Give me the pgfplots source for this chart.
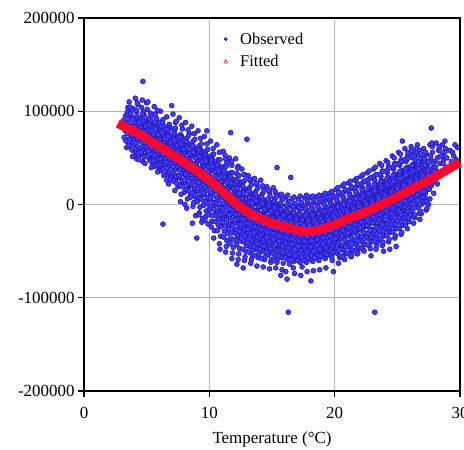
\documentclass[border=0pt]{standalone}
\usepackage{fontspec}
\setmainfont{Liberation Serif}
\usepackage{pgfplots}
\pgfplotsset{compat=1.18}

\definecolor{obsline}{RGB}{35,25,185}
\definecolor{obsfill}{RGB}{70,60,250}
\definecolor{fitred}{RGB}{245,10,50}
\definecolor{gridgray}{RGB}{180,180,180}

\pgfplotsset{obsstyle/.style={only marks, mark=*, mark size=2.4bp,
    mark options={draw=obsline, fill=obsfill, line width=0.7bp}}}

\begin{document}
\begin{tikzpicture}
\begin{axis}[
    set layers,
    at={(84bp,59bp)}, anchor=south west,
    scale only axis,
    width=376bp, height=373bp,
    xmin=0, xmax=30, ymin=-200000, ymax=200000,
    xtick={0,10,20,30},
    ytick={-200000,-100000,0,100000,200000},
    yticklabels={-200000,-100000,0,100000,200000},
    scaled y ticks=false,
    /pgf/number format/assume math mode=true,
    grid=major,
    major grid style={gridgray, line width=0.8bp},
    axis line style={black, line width=1.4bp},
    tick align=outside,
    xtick pos=left, ytick pos=left,
    major tick length=6bp,
    tick style={black, line width=1.2bp},
    tick label style={font=\fontsize{17}{18}\selectfont},
    xticklabel style={yshift=-7bp},
    xlabel={Temperature (°C)},
    xlabel style={font=\fontsize{17}{18}\selectfont, yshift=-6bp},
    legend style={draw=none, fill=none, at={(0.355,0.972)}, anchor=north west,
        font=\fontsize{16.5}{17}\selectfont, row sep=6bp},
    legend cell align=left,
]
% observed values (scatter)
\addplot[obsstyle,
    legend image code/.code={\path[draw=none, fill=none] (0,0) -- (0.62cm,0);
        \draw[obsline, fill=obsfill, line width=0.6bp] (0.18cm,0) circle (1.6bp);}]
coordinates {
(3.2,72000) (3.3,95000) (3.4,88000) (3.4,61000) (3.5,104000) (3.3,79000)
(3.6,110000) (3.7,97000) (3.6,70000) (3.8,85000) (3.9,58000) (3.7,76000) (3.9,103000) (3.8,66000) (3.6,91000) (4.0,52000)
(4.1,114000) (4.2,99000) (4.1,83000) (4.3,71000) (4.4,60000) (4.2,91000) (4.0,75000) (4.3,107000) (4.4,80000) (4.1,64000) (4.5,55000) (4.2,49000)
(4.7,132000) (4.6,104000) (4.8,96000) (4.6,86000) (4.9,78000) (4.7,68000) (4.8,61000) (4.6,54000) (5.0,90000) (4.9,70000) (4.7,46000) (4.8,83000) (5.0,109000)
(5.1,110000) (5.3,98000) (5.2,90000) (5.4,82000) (5.1,74000) (5.3,66000) (5.2,58000) (5.4,50000) (5.5,43000) (5.1,62000) (5.3,86000) (5.5,71000) (5.2,78000) (5.4,95000)
(5.6,105000) (5.8,92000) (5.7,84000) (5.9,76000) (5.6,69000) (5.8,61000) (5.7,53000) (5.9,45000) (6.0,37000) (5.6,57000) (5.8,71000) (6.0,82000) (5.7,97000) (5.9,63000) (6.0,54000)
(6.1,100000) (6.3,91000) (6.2,82000) (6.4,76000) (6.1,68000) (6.3,62000) (6.2,54000) (6.4,46000) (6.1,40000) (6.3,-21000) (6.5,32000) (6.2,72000) (6.4,58000) (6.0,88000) (6.5,66000) (6.2,49000) (6.4,84000)
(6.6,94000) (6.8,86000) (6.7,78000) (6.9,71000) (6.6,64000) (6.8,56000) (6.7,48000) (6.9,41000) (7.0,34000) (6.6,26000) (6.8,66000) (7.0,53000) (6.7,59000) (6.9,82000) (6.6,43000) (7.0,106000)
(7.1,97000) (7.3,88000) (7.2,79000) (7.4,73000) (7.1,65000) (7.3,58000) (7.2,50000) (7.4,43000) (7.1,35000) (7.3,27000) (7.5,19000) (7.2,61000) (7.4,53000) (7.5,69000) (7.1,45000) (7.3,82000) (7.5,39000)
(7.6,93000) (7.8,85000) (7.7,75000) (7.9,67000) (7.6,59000) (7.8,52000) (7.7,44000) (7.9,37000) (7.6,29000) (7.8,21000) (8.0,13000) (7.7,55000) (7.9,48000) (8.0,63000) (7.6,40000) (7.8,73000) (8.0,32000) (7.7,3000)
(8.1,88000) (8.3,80000) (8.2,71000) (8.4,64000) (8.1,56000) (8.3,49000) (8.2,41000) (8.4,34000) (8.1,26000) (8.3,18000) (8.5,10000) (8.2,46000) (8.4,39000) (8.5,54000) (8.1,32000) (8.3,62000) (8.5,22000) (8.2,-4000) (8.4,76000)
(8.6,84000) (8.8,76000) (8.7,68000) (8.9,60000) (8.6,52000) (8.8,44000) (8.7,37000) (8.9,30000) (8.6,22000) (8.8,14000) (9.0,6000) (8.7,41000) (8.9,34000) (9.0,49000) (8.6,27000) (8.8,56000) (9.0,18000) (8.7,-2000) (9.0,-36000) (8.9,-12000)
(9.1,79000) (9.3,71000) (9.2,63000) (9.4,55000) (9.1,47000) (9.3,39000) (9.2,31000) (9.4,24000) (9.1,16000) (9.3,8000) (9.5,-1000) (9.2,36000) (9.4,29000) (9.5,43000) (9.1,21000) (9.3,51000) (9.5,12000) (9.2,-9000) (9.4,-19000) (9.3,59000)
(9.6,73000) (9.8,65000) (9.7,57000) (9.9,49000) (9.6,41000) (9.8,33000) (9.7,26000) (9.9,19000) (9.6,11000) (9.8,3000) (10.0,-5000) (9.7,31000) (9.9,24000) (10.0,38000) (9.6,16000) (9.8,45000) (10.0,7000) (9.7,-13000) (9.9,-21000) (9.6,53000) (9.8,79000)
(10.1,68000) (10.3,60000) (10.2,52000) (10.4,44000) (10.1,36000) (10.3,28000) (10.2,21000) (10.4,14000) (10.1,6000) (10.3,-2000) (10.5,-10000) (10.2,26000) (10.4,19000) (10.5,33000) (10.1,11000) (10.3,40000) (10.5,2000) (10.2,-18000) (10.4,-28000) (10.1,48000) (10.3,54000) (10.5,24000)
(10.6,64000) (10.8,56000) (10.7,48000) (10.9,40000) (10.6,32000) (10.8,24000) (10.7,17000) (10.9,10000) (10.6,2000) (10.8,-6000) (11.0,-14000) (10.7,22000) (10.9,15000) (11.0,29000) (10.6,7000) (10.8,36000) (11.0,-2000) (10.7,-22000) (10.9,-34000) (10.6,44000) (10.8,-42000) (11.0,20000)
(11.1,57000) (11.3,49000) (11.2,41000) (11.4,33000) (11.1,25000) (11.3,17000) (11.2,10000) (11.4,3000) (11.1,-5000) (11.3,-13000) (11.5,-21000) (11.2,15000) (11.4,8000) (11.5,22000) (11.1,0) (11.3,29000) (11.5,-9000) (11.2,-29000) (11.4,-39000) (11.1,37000) (11.3,-51000) (11.5,13000) (11.4,45000)
(11.7,77000) (11.6,50000) (11.8,42000) (11.7,34000) (11.9,26000) (11.6,18000) (11.8,10000) (11.7,3000) (11.9,-4000) (11.6,-12000) (11.8,-20000) (12.0,-28000) (11.7,8000) (11.9,1000) (12.0,15000) (11.6,-7000) (11.8,22000) (12.0,-16000) (11.7,-36000) (11.9,-46000) (11.6,30000) (11.8,-58000) (12.0,6000)
(12.1,49000) (12.3,41000) (12.2,33000) (12.4,25000) (12.1,17000) (12.3,9000) (12.2,2000) (12.4,-5000) (12.1,-12000) (12.3,-19000) (12.5,-27000) (12.2,5000) (12.4,-2000) (12.5,12000) (12.1,-10000) (12.3,19000) (12.5,-17000) (12.2,-37000) (12.4,-47000) (12.1,27000) (12.3,-59000) (12.5,1000) (12.2,-64000) (12.4,-31000)
(12.6,38000) (12.8,32000) (12.7,24000) (12.9,16000) (12.6,10000) (12.8,3000) (12.7,-4000) (12.9,-11000) (12.6,-18000) (12.8,-25000) (13.0,-32000) (12.7,0) (12.9,-7000) (13.0,6000) (12.6,-14000) (12.8,14000) (13.0,-22000) (12.7,-40000) (12.9,-50000) (12.6,20000) (12.8,-60000) (13.0,-4000) (12.7,-68000) (12.9,-36000) (13.0,70000)
(13.1,31000) (13.3,25000) (13.2,18000) (13.4,11000) (13.1,5000) (13.3,-2000) (13.2,-9000) (13.4,-16000) (13.1,-23000) (13.3,-30000) (13.5,-37000) (13.2,-5000) (13.4,-12000) (13.5,1000) (13.1,-19000) (13.3,8000) (13.5,-27000) (13.2,-45000) (13.4,-54000) (13.1,15000) (13.3,-63000) (13.5,-9000) (13.4,-41000)
(13.6,28000) (13.8,21000) (13.7,14000) (13.9,7000) (13.6,1000) (13.8,-6000) (13.7,-13000) (13.9,-20000) (13.6,-27000) (13.8,-34000) (14.0,-41000) (13.7,-9000) (13.9,-16000) (14.0,-3000) (13.6,-23000) (13.8,4000) (14.0,-31000) (13.7,-48000) (13.9,-57000) (13.6,11000) (13.8,-66000) (14.0,-13000) (13.9,-44000)
(14.1,26000) (14.3,18000) (14.2,11000) (14.4,4000) (14.1,-2000) (14.3,-9000) (14.2,-16000) (14.4,-23000) (14.1,-30000) (14.3,-37000) (14.5,-44000) (14.2,-12000) (14.4,-19000) (14.5,-6000) (14.1,-26000) (14.3,1000) (14.5,-34000) (14.2,-50000) (14.4,-59000) (14.1,8000) (14.3,-67000) (14.5,-16000) (14.4,-48000)
(14.6,19000) (14.8,13000) (14.7,6000) (14.9,0) (14.6,-6000) (14.8,-13000) (14.7,-20000) (14.9,-27000) (14.6,-34000) (14.8,-41000) (15.0,-48000) (14.7,-16000) (14.9,-23000) (15.0,-9000) (14.6,-30000) (14.8,-3000) (15.0,-38000) (14.7,-54000) (14.9,-62000) (14.6,4000) (14.8,-69000) (15.0,-19000) (14.9,-51000)
(15.1,18000) (15.4,39500) (15.3,12000) (15.2,6000) (15.4,0) (15.1,-6000) (15.3,-13000) (15.2,-20000) (15.4,-27000) (15.1,-34000) (15.3,-41000) (15.5,-48000) (15.2,-16000) (15.4,-23000) (15.5,-10000) (15.1,-30000) (15.3,-3000) (15.5,-38000) (15.2,-54000) (15.4,-62000) (15.1,3000) (15.3,-68000) (15.5,-20000) (15.4,-50000)
(15.6,10000) (15.8,5000) (15.7,-1000) (15.9,-7000) (15.6,-13000) (15.8,-19000) (15.7,-25000) (15.9,-31000) (15.6,-37000) (15.8,-43000) (16.0,-50000) (15.7,-21000) (15.9,-27000) (16.0,-14000) (15.6,-33000) (15.8,-9000) (16.0,-40000) (15.7,-56000) (15.9,-63000) (15.6,-3000) (15.8,-70000) (16.0,-24000) (15.7,-76000) (15.9,-53000)
(16.1,8000) (16.3,3000) (16.2,-3000) (16.4,-9000) (16.1,-15000) (16.3,-21000) (16.2,-27000) (16.4,-33000) (16.1,-39000) (16.3,-45000) (16.5,-52000) (16.2,-23000) (16.4,-29000) (16.5,-16000) (16.1,-35000) (16.3,-11000) (16.5,-42000) (16.2,-58000) (16.4,-64000) (16.5,29000) (16.2,-80000) (16.3,-115500) (16.5,-26000) (16.1,-72000) (16.4,-55000)
(16.6,6000) (16.8,1000) (16.7,-5000) (16.9,-11000) (16.6,-17000) (16.8,-23000) (16.7,-29000) (16.9,-35000) (16.6,-41000) (16.8,-47000) (17.0,-54000) (16.7,-25000) (16.9,-31000) (17.0,-18000) (16.6,-37000) (16.8,-13000) (17.0,-44000) (16.7,-60000) (16.6,-2000) (16.8,-74000) (17.0,-28000) (16.7,-68000) (16.9,-57000)
(17.1,6000) (17.3,0) (17.2,-6000) (17.4,-12000) (17.1,-18000) (17.3,-24000) (17.2,-30000) (17.4,-36000) (17.1,-42000) (17.3,-48000) (17.5,-55000) (17.2,-26000) (17.4,-32000) (17.5,-19000) (17.1,-38000) (17.3,-14000) (17.5,-45000) (17.2,-61000) (17.4,-67000) (17.1,-3000) (17.3,-76000) (17.5,-29000) (17.4,-58000)
(17.6,7000) (17.8,1000) (17.7,-5000) (17.9,-11000) (17.6,-17000) (17.8,-23000) (17.7,-29000) (17.9,-35000) (17.6,-41000) (17.8,-47000) (18.0,-54000) (17.7,-25000) (17.9,-31000) (18.0,-18000) (17.6,-37000) (17.8,-13000) (18.0,-44000) (17.7,-60000) (17.6,-2000) (17.8,-72000) (18.1,-82000) (18.0,-29000) (17.7,-57000)
(18.1,8000) (18.3,2000) (18.2,-4000) (18.4,-10000) (18.1,-16000) (18.3,-22000) (18.2,-28000) (18.4,-34000) (18.1,-40000) (18.3,-46000) (18.5,-53000) (18.2,-24000) (18.4,-30000) (18.5,-17000) (18.1,-36000) (18.3,-12000) (18.5,-43000) (18.2,-59000) (18.1,-1000) (18.3,-71000) (18.5,-28000) (18.2,-55000)
(18.6,8500) (18.8,3000) (18.7,-3000) (18.9,-9000) (18.6,-15000) (18.8,-21000) (18.7,-27000) (18.9,-33000) (18.6,-39000) (18.8,-45000) (19.0,-52000) (18.7,-23000) (18.9,-29000) (19.0,-16000) (18.6,-35000) (18.8,-11000) (19.0,-42000) (18.7,-58000) (18.6,0) (18.8,-70000) (19.0,-27000) (18.7,-50000)
(19.1,10000) (19.3,5000) (19.2,-1000) (19.4,-7000) (19.1,-13000) (19.3,-19000) (19.2,-25000) (19.4,-31000) (19.1,-37000) (19.3,-43000) (19.5,-50000) (19.2,-21000) (19.4,-27000) (19.5,-14000) (19.1,-33000) (19.3,-9000) (19.5,-40000) (19.2,-56000) (19.1,2000) (19.3,-68000) (19.5,-25000) (19.2,-47000)
(19.6,12000) (19.8,7000) (19.7,1000) (19.9,-5000) (19.6,-11000) (19.8,-17000) (19.7,-23000) (19.9,-29000) (19.6,-35000) (19.8,-41000) (20.0,-48000) (19.7,-19000) (19.9,-25000) (20.0,-12000) (19.6,-31000) (19.8,-7000) (20.0,-38000) (19.7,-54000) (19.9,-72000) (19.6,4000) (19.8,-60000) (20.0,-23000) (19.7,-44000)
(20.1,16000) (20.3,10000) (20.2,4000) (20.4,-2000) (20.1,-8000) (20.3,-14000) (20.2,-20000) (20.4,-26000) (20.1,-32000) (20.3,-38000) (20.5,-45000) (20.2,-16000) (20.4,-22000) (20.5,-9000) (20.1,-28000) (20.3,-4000) (20.5,-35000) (20.2,-51000) (20.4,-57000) (20.1,8000) (20.3,-63000) (20.5,-20000) (20.2,-41000)
(20.6,20000) (20.8,14000) (20.7,8000) (20.9,2000) (20.6,-4000) (20.8,-10000) (20.7,-16000) (20.9,-22000) (20.6,-28000) (20.8,-34000) (21.0,-41000) (20.7,-12000) (20.9,-18000) (21.0,-5000) (20.6,-24000) (20.8,0) (21.0,-31000) (20.7,-47000) (20.9,-53000) (20.6,12000) (20.8,-59000) (21.0,-17000) (20.7,-37000)
(21.1,23000) (21.3,17000) (21.2,11000) (21.4,5000) (21.1,-1000) (21.3,-7000) (21.2,-13000) (21.4,-19000) (21.1,-25000) (21.3,-31000) (21.5,-38000) (21.2,-9000) (21.4,-15000) (21.5,-2000) (21.1,-21000) (21.3,3000) (21.5,-28000) (21.2,-44000) (21.4,-50000) (21.1,15000) (21.3,-56000) (21.5,-14000) (21.2,-34000)
(21.6,26000) (21.8,20000) (21.7,14000) (21.9,8000) (21.6,2000) (21.8,-4000) (21.7,-10000) (21.9,-16000) (21.6,-22000) (21.8,-28000) (22.0,-35000) (21.7,-6000) (21.9,-12000) (22.0,1000) (21.6,-18000) (21.8,6000) (22.0,-25000) (21.7,-41000) (21.9,-47000) (21.6,18000) (21.8,-53000) (22.0,-11000) (21.7,-31000)
(22.1,30000) (22.3,24000) (22.2,18000) (22.4,12000) (22.1,6000) (22.3,0) (22.2,-6000) (22.4,-12000) (22.1,-18000) (22.3,-24000) (22.5,-31000) (22.2,-2000) (22.4,-8000) (22.5,5000) (22.1,-14000) (22.3,10000) (22.5,-21000) (22.2,-37000) (22.4,-43000) (22.1,22000) (22.3,-49000) (22.5,-9000) (22.2,-28000)
(22.6,34000) (22.8,28000) (22.7,22000) (22.9,16000) (22.6,10000) (22.8,4000) (22.7,-2000) (22.9,-8000) (22.6,-14000) (22.8,-20000) (23.0,-27000) (22.7,2000) (22.9,-4000) (23.0,9000) (22.6,-10000) (22.8,14000) (23.0,-17000) (22.7,-33000) (22.9,-55000) (22.6,26000) (22.8,-45000) (23.0,-5000) (22.7,-24000) (22.9,-38000)
(23.1,38000) (23.3,32000) (23.2,26000) (23.4,20000) (23.1,14000) (23.3,8000) (23.2,2000) (23.4,-4000) (23.1,-10000) (23.3,-16000) (23.5,-23000) (23.2,6000) (23.4,0) (23.5,13000) (23.1,-6000) (23.3,18000) (23.5,-13000) (23.2,-29000) (23.4,-40000) (23.1,30000) (23.3,-48000) (23.2,-115500) (23.5,-2000) (23.4,-20000)
(23.6,44000) (23.8,36000) (23.7,30000) (23.9,24000) (23.6,18000) (23.8,12000) (23.7,6000) (23.9,0) (23.6,-6000) (23.8,-12000) (24.0,-19000) (23.7,10000) (23.9,4000) (24.0,17000) (23.6,-2000) (23.8,22000) (24.0,-9000) (23.7,-25000) (23.9,-34000) (23.6,32000) (23.8,-44000) (24.0,1000) (23.7,-16000) (23.9,-50000)
(24.1,47000) (24.3,40000) (24.2,34000) (24.4,28000) (24.1,22000) (24.3,16000) (24.2,10000) (24.4,4000) (24.1,-2000) (24.3,-8000) (24.5,-15000) (24.2,14000) (24.4,8000) (24.5,21000) (24.1,2000) (24.3,26000) (24.5,-5000) (24.2,-21000) (24.4,-30000) (24.1,36000) (24.3,-40000) (24.5,5000) (24.2,-12000) (24.4,-48000)
(24.6,52000) (24.8,44000) (24.7,38000) (24.9,32000) (24.6,26000) (24.8,20000) (24.7,14000) (24.9,8000) (24.6,2000) (24.8,-4000) (25.0,-11000) (24.7,18000) (24.9,12000) (25.0,25000) (24.6,6000) (24.8,30000) (25.0,-1000) (24.7,-17000) (24.9,-26000) (24.6,40000) (24.8,-36000) (25.0,9000) (24.7,-8000) (24.9,-45000)
(25.4,68000) (25.1,56000) (25.3,48000) (25.2,42000) (25.4,36000) (25.1,30000) (25.3,24000) (25.2,18000) (25.4,12000) (25.1,6000) (25.3,0) (25.5,-7000) (25.2,22000) (25.4,16000) (25.5,29000) (25.1,10000) (25.3,34000) (25.5,3000) (25.2,-13000) (25.4,-22000) (25.1,44000) (25.3,-32000) (25.5,13000) (25.2,-4000)
(25.6,60000) (25.8,52000) (25.7,46000) (25.9,40000) (25.6,34000) (25.8,28000) (25.7,22000) (25.9,16000) (25.6,10000) (25.8,4000) (26.0,-3000) (25.7,26000) (25.9,20000) (26.0,33000) (25.6,14000) (25.8,38000) (26.0,7000) (25.7,-9000) (25.9,-18000) (25.6,48000) (25.8,-26000) (26.0,17000) (25.7,1000)
(26.1,62000) (26.3,56000) (26.2,50000) (26.4,44000) (26.1,38000) (26.3,32000) (26.2,26000) (26.4,20000) (26.1,14000) (26.3,8000) (26.5,1000) (26.2,30000) (26.4,24000) (26.5,37000) (26.1,18000) (26.3,42000) (26.5,11000) (26.2,-5000) (26.4,-14000) (26.1,52000) (26.3,-20000) (26.5,21000) (26.2,5000)
(26.6,64000) (26.8,58000) (26.7,52000) (26.9,46000) (26.6,40000) (26.8,34000) (26.7,28000) (26.9,22000) (26.6,16000) (26.8,10000) (27.0,4000) (26.7,32000) (26.9,26000) (27.0,40000) (26.6,20000) (26.8,44000) (27.0,14000) (26.7,-2000) (26.9,-10000) (26.6,56000) (26.8,-16000) (27.0,24000)
(27.1,60000) (27.3,54000) (27.2,48000) (27.4,42000) (27.1,36000) (27.3,30000) (27.2,24000) (27.4,18000) (27.1,12000) (27.3,6000) (27.5,0) (27.2,34000) (27.4,28000) (27.1,50000) (27.3,-6000) (27.5,38000)
(27.7,82000) (27.6,64000) (27.8,56000) (27.7,48000) (27.9,40000) (27.6,34000) (27.8,28000) (27.7,20000) (27.9,12000) (27.6,6000) (28.0,46000) (27.8,62000)
(28.1,66000) (28.3,58000) (28.2,50000) (28.4,44000) (28.1,36000) (28.3,30000) (28.2,22000) (28.4,58000)
(28.6,64000) (28.8,56000) (28.7,48000) (28.9,40000) (28.6,52000) (28.8,68000)
(29.2,58000) (29.5,52000) (29.8,61000) (29.3,46000) (29.6,64000)
(3.25,84000) (3.35,68000) (3.45,99000) (3.15,90000) (3.45,76000)
(3.55,86000) (3.65,79000) (3.75,72000) (3.85,94000) (3.95,81000) (3.65,63000) (3.75,101000) (3.85,77000) (3.95,68000) (3.55,96000)
(4.05,88000) (4.15,72000) (4.25,80000) (4.35,93000) (4.45,68000) (4.15,101000) (4.25,62000) (4.35,85000) (4.45,74000) (4.05,57000) (4.35,52000) (4.25,109000)
(4.55,92000) (4.65,76000) (4.75,88000) (4.85,66000) (4.95,84000) (4.55,71000) (4.65,58000) (4.75,100000) (4.85,74000) (4.95,62000) (4.65,112000) (4.85,52000) (4.55,82000)
(5.05,82000) (5.15,68000) (5.25,74000) (5.35,60000) (5.45,78000) (5.05,56000) (5.15,92000) (5.25,64000) (5.35,90000) (5.45,54000) (5.05,102000) (5.25,48000) (5.45,66000) (5.35,72000)
(5.55,75000) (5.65,63000) (5.75,67000) (5.85,55000) (5.95,71000) (5.55,51000) (5.65,87000) (5.75,59000) (5.85,81000) (5.95,49000) (5.65,41000) (5.75,77000) (5.95,59000) (5.55,65000) (5.85,101000)
(6.05,70000) (6.15,58000) (6.25,64000) (6.35,52000) (6.45,68000) (6.05,46000) (6.15,80000) (6.25,42000) (6.35,74000) (6.45,54000) (6.15,36000) (6.25,88000) (6.45,42000) (6.05,60000) (6.35,60000) (6.45,80000)
(6.55,62000) (6.65,52000) (6.75,56000) (6.85,46000) (6.95,62000) (6.55,38000) (6.65,74000) (6.75,40000) (6.85,68000) (6.95,44000) (6.65,32000) (6.75,82000) (6.95,30000) (6.55,54000) (6.85,58000) (6.95,74000) (6.75,22000)
(7.05,57000) (7.15,47000) (7.25,53000) (7.35,41000) (7.45,57000) (7.05,33000) (7.15,71000) (7.25,37000) (7.35,65000) (7.45,45000) (7.15,25000) (7.25,75000) (7.45,31000) (7.05,51000) (7.35,53000) (7.45,63000) (7.25,15000) (7.35,89000)
(7.55,53000) (7.65,43000) (7.75,49000) (7.85,37000) (7.95,53000) (7.55,29000) (7.65,67000) (7.75,33000) (7.85,61000) (7.95,41000) (7.65,21000) (7.75,71000) (7.95,25000) (7.55,47000) (7.85,49000) (7.95,59000) (7.75,11000) (7.85,81000)
(8.05,48000) (8.15,38000) (8.25,44000) (8.35,32000) (8.45,48000) (8.05,24000) (8.15,62000) (8.25,28000) (8.35,56000) (8.45,36000) (8.15,16000) (8.25,66000) (8.45,20000) (8.05,42000) (8.35,44000) (8.45,54000) (8.25,6000) (8.35,74000) (8.05,0)
(8.55,44000) (8.65,34000) (8.75,40000) (8.85,28000) (8.95,44000) (8.55,20000) (8.65,58000) (8.75,24000) (8.85,52000) (8.95,32000) (8.65,12000) (8.75,62000) (8.95,16000) (8.55,38000) (8.85,40000) (8.95,50000) (8.75,2000) (8.85,70000) (8.55,8000) (8.65,-20000)
(9.05,39000) (9.15,29000) (9.25,35000) (9.35,23000) (9.45,39000) (9.05,15000) (9.15,53000) (9.25,19000) (9.35,47000) (9.45,27000) (9.15,7000) (9.25,57000) (9.45,11000) (9.05,33000) (9.35,35000) (9.45,45000) (9.25,-3000) (9.35,65000) (9.05,3000) (9.15,-11000) (9.45,-15000)
(9.55,35000) (9.65,25000) (9.75,31000) (9.85,19000) (9.95,35000) (9.55,11000) (9.65,49000) (9.75,15000) (9.85,43000) (9.95,23000) (9.65,3000) (9.75,53000) (9.95,7000) (9.55,29000) (9.85,31000) (9.95,41000) (9.75,-7000) (9.85,59000) (9.55,-1000) (9.65,-17000) (9.95,-11000)
(10.05,30000) (10.15,20000) (10.25,26000) (10.35,14000) (10.45,30000) (10.05,6000) (10.15,44000) (10.25,10000) (10.35,38000) (10.45,18000) (10.15,-2000) (10.25,48000) (10.45,2000) (10.05,24000) (10.35,26000) (10.45,36000) (10.25,-12000) (10.35,54000) (10.05,-6000) (10.15,-24000) (10.45,-18000) (10.35,-36000)
(10.55,26000) (10.65,14000) (10.75,20000) (10.85,8000) (10.95,24000) (10.55,0) (10.65,38000) (10.75,4000) (10.85,32000) (10.95,12000) (10.65,-8000) (10.75,42000) (10.95,-4000) (10.55,18000) (10.85,20000) (10.95,30000) (10.75,-16000) (10.85,48000) (10.55,-12000) (10.65,-28000) (10.95,-24000) (10.85,-48000)
(11.05,19000) (11.15,7000) (11.25,13000) (11.35,1000) (11.45,17000) (11.05,-7000) (11.15,31000) (11.25,-3000) (11.35,25000) (11.45,5000) (11.15,-15000) (11.25,35000) (11.45,-11000) (11.05,11000) (11.35,13000) (11.45,23000) (11.25,-23000) (11.35,41000) (11.05,-19000) (11.15,-35000) (11.45,-31000) (11.35,-45000) (11.25,53000)
(11.55,12000) (11.65,0) (11.75,6000) (11.85,-6000) (11.95,10000) (11.55,-14000) (11.65,24000) (11.75,-10000) (11.85,18000) (11.95,-2000) (11.65,-22000) (11.75,28000) (11.95,-18000) (11.55,4000) (11.85,6000) (11.95,16000) (11.75,-30000) (11.85,34000) (11.55,-26000) (11.65,-42000) (11.95,-38000) (11.85,-52000) (11.75,46000)
(12.05,7000) (12.15,-5000) (12.25,1000) (12.35,-11000) (12.45,5000) (12.05,-19000) (12.15,19000) (12.25,-15000) (12.35,13000) (12.45,-7000) (12.15,-27000) (12.25,23000) (12.45,-23000) (12.05,-1000) (12.35,1000) (12.45,11000) (12.25,-33000) (12.35,31000) (12.05,-31000) (12.15,-43000) (12.45,-39000) (12.35,-53000) (12.25,39000)
(12.55,2000) (12.65,-10000) (12.75,-4000) (12.85,-16000) (12.95,0) (12.55,-24000) (12.65,14000) (12.75,-20000) (12.85,8000) (12.95,-12000) (12.65,-32000) (12.75,18000) (12.95,-28000) (12.55,-6000) (12.85,-4000) (12.95,6000) (12.75,-38000) (12.85,26000) (12.55,-36000) (12.65,-48000) (12.95,-44000) (12.85,-56000) (12.75,32000)
(13.05,-3000) (13.15,-15000) (13.25,-9000) (13.35,-21000) (13.45,-5000) (13.05,-29000) (13.15,9000) (13.25,-25000) (13.35,3000) (13.45,-17000) (13.15,-37000) (13.25,13000) (13.45,-33000) (13.05,-11000) (13.35,-9000) (13.45,1000) (13.25,-43000) (13.35,21000) (13.05,-41000) (13.15,-51000) (13.45,-49000) (13.35,-59000) (13.25,27000)
(13.55,-7000) (13.65,-19000) (13.75,-13000) (13.85,-25000) (13.95,-9000) (13.55,-33000) (13.65,5000) (13.75,-29000) (13.85,-1000) (13.95,-21000) (13.65,-41000) (13.75,9000) (13.95,-37000) (13.55,-15000) (13.85,-13000) (13.95,-3000) (13.75,-47000) (13.85,17000) (13.55,-45000) (13.65,-55000) (13.95,-53000) (13.75,23000)
(14.05,-10000) (14.15,-22000) (14.25,-16000) (14.35,-28000) (14.45,-12000) (14.05,-36000) (14.15,2000) (14.25,-32000) (14.35,-4000) (14.45,-24000) (14.15,-44000) (14.25,6000) (14.45,-40000) (14.05,-18000) (14.35,-16000) (14.45,-6000) (14.25,-50000) (14.35,14000) (14.05,-48000) (14.15,-58000) (14.45,-56000) (14.25,20000)
(14.55,-13000) (14.65,-25000) (14.75,-19000) (14.85,-31000) (14.95,-15000) (14.55,-39000) (14.65,-1000) (14.75,-35000) (14.85,-7000) (14.95,-27000) (14.65,-47000) (14.75,3000) (14.95,-43000) (14.55,-21000) (14.85,-19000) (14.95,-9000) (14.75,-53000) (14.85,9000) (14.55,-51000) (14.95,-59000) (14.75,15000)
(15.05,-14000) (15.15,-26000) (15.25,-20000) (15.35,-32000) (15.45,-16000) (15.05,-40000) (15.15,-2000) (15.25,-36000) (15.35,-8000) (15.45,-28000) (15.15,-48000) (15.25,2000) (15.45,-44000) (15.05,-22000) (15.35,-20000) (15.45,-10000) (15.25,-54000) (15.35,8000) (15.05,-52000) (15.15,-60000) (15.45,-58000) (15.25,14000)
(15.55,-17000) (15.65,-29000) (15.75,-23000) (15.85,-35000) (15.95,-19000) (15.55,-43000) (15.65,-5000) (15.75,-39000) (15.85,-11000) (15.95,-31000) (15.65,-51000) (15.75,-1000) (15.95,-47000) (15.55,-25000) (15.85,-23000) (15.95,-13000) (15.75,-57000) (15.85,5000) (15.55,-55000) (15.75,11000)
(16.05,-19000) (16.15,-31000) (16.25,-25000) (16.35,-37000) (16.45,-21000) (16.05,-45000) (16.15,-7000) (16.25,-41000) (16.35,-13000) (16.45,-33000) (16.15,-53000) (16.25,-3000) (16.45,-49000) (16.05,-27000) (16.35,-25000) (16.45,-15000) (16.25,-59000) (16.35,3000) (16.05,-57000) (16.25,10000)
(16.55,-21000) (16.65,-33000) (16.75,-27000) (16.85,-39000) (16.95,-23000) (16.55,-47000) (16.65,-9000) (16.75,-43000) (16.85,-15000) (16.95,-35000) (16.65,-55000) (16.75,-5000) (16.95,-51000) (16.55,-29000) (16.85,-27000) (16.95,-17000) (16.75,-61000) (16.85,1000) (16.55,-59000) (16.75,8000)
(17.05,-22000) (17.15,-34000) (17.25,-28000) (17.35,-40000) (17.45,-24000) (17.05,-48000) (17.15,-10000) (17.25,-44000) (17.35,-16000) (17.45,-36000) (17.15,-56000) (17.25,-6000) (17.45,-52000) (17.05,-30000) (17.35,-28000) (17.45,-18000) (17.25,-62000) (17.35,2000) (17.05,-60000) (17.25,9000)
(17.55,-22000) (17.65,-34000) (17.75,-28000) (17.85,-40000) (17.95,-24000) (17.55,-48000) (17.65,-10000) (17.75,-44000) (17.85,-16000) (17.95,-36000) (17.65,-56000) (17.75,-6000) (17.95,-52000) (17.55,-30000) (17.85,-28000) (17.95,-18000) (17.75,-62000) (17.85,4000) (17.55,-60000) (17.75,10000)
(18.05,-21000) (18.15,-33000) (18.25,-27000) (18.35,-39000) (18.45,-23000) (18.05,-47000) (18.15,-9000) (18.25,-43000) (18.35,-15000) (18.45,-35000) (18.15,-55000) (18.25,-5000) (18.45,-51000) (18.05,-29000) (18.35,-27000) (18.45,-17000) (18.25,-61000) (18.35,5000) (18.05,-59000) (18.25,9000)
(18.55,-20000) (18.65,-32000) (18.75,-26000) (18.85,-38000) (18.95,-22000) (18.55,-46000) (18.65,-8000) (18.75,-42000) (18.85,-14000) (18.95,-34000) (18.65,-54000) (18.75,-4000) (18.95,-50000) (18.55,-28000) (18.85,-26000) (18.95,-16000) (18.75,-60000) (18.85,6000) (18.55,-58000) (18.75,10000)
(19.05,-18000) (19.15,-30000) (19.25,-24000) (19.35,-36000) (19.45,-20000) (19.05,-44000) (19.15,-6000) (19.25,-40000) (19.35,-12000) (19.45,-32000) (19.15,-52000) (19.25,-2000) (19.45,-48000) (19.05,-26000) (19.35,-24000) (19.45,-14000) (19.25,-58000) (19.35,8000) (19.05,-56000) (19.25,12000)
(19.55,-16000) (19.65,-28000) (19.75,-22000) (19.85,-34000) (19.95,-18000) (19.55,-42000) (19.65,-4000) (19.75,-38000) (19.85,-10000) (19.95,-30000) (19.65,-50000) (19.75,0) (19.95,-46000) (19.55,-24000) (19.85,-22000) (19.95,-12000) (19.75,-56000) (19.85,10000) (19.55,-54000) (19.75,14000)
(20.05,-13000) (20.15,-25000) (20.25,-19000) (20.35,-31000) (20.45,-15000) (20.05,-39000) (20.15,-1000) (20.25,-35000) (20.35,-7000) (20.45,-27000) (20.15,-47000) (20.25,3000) (20.45,-43000) (20.05,-21000) (20.35,-19000) (20.45,-9000) (20.25,-53000) (20.35,13000) (20.05,-51000) (20.45,-55000) (20.25,18000)
(20.55,-10000) (20.65,-22000) (20.75,-16000) (20.85,-28000) (20.95,-12000) (20.55,-36000) (20.65,2000) (20.75,-32000) (20.85,-4000) (20.95,-24000) (20.65,-44000) (20.75,6000) (20.95,-40000) (20.55,-18000) (20.85,-16000) (20.95,-6000) (20.75,-50000) (20.85,16000) (20.55,-48000) (20.65,-56000) (20.95,-52000) (20.75,22000)
(21.05,-7000) (21.15,-19000) (21.25,-13000) (21.35,-25000) (21.45,-9000) (21.05,-33000) (21.15,5000) (21.25,-29000) (21.35,-1000) (21.45,-21000) (21.15,-41000) (21.25,9000) (21.45,-37000) (21.05,-15000) (21.35,-13000) (21.45,-3000) (21.25,-47000) (21.35,19000) (21.05,-45000) (21.15,-53000) (21.45,-49000) (21.35,-55000) (21.25,25000)
(21.55,-4000) (21.65,-16000) (21.75,-10000) (21.85,-22000) (21.95,-6000) (21.55,-30000) (21.65,8000) (21.75,-26000) (21.85,2000) (21.95,-18000) (21.65,-38000) (21.75,12000) (21.95,-34000) (21.55,-12000) (21.85,-10000) (21.95,0) (21.75,-44000) (21.85,22000) (21.55,-42000) (21.65,-50000) (21.95,-46000) (21.85,-52000) (21.75,28000)
(22.05,-1000) (22.15,-13000) (22.25,-7000) (22.35,-19000) (22.45,-3000) (22.05,-27000) (22.15,11000) (22.25,-23000) (22.35,5000) (22.45,-15000) (22.15,-35000) (22.25,15000) (22.45,-31000) (22.05,-9000) (22.35,-7000) (22.45,3000) (22.25,-41000) (22.35,25000) (22.05,-39000) (22.15,-47000) (22.45,-43000) (22.35,-50000) (22.25,32000)
(22.55,2500) (22.65,-9500) (22.75,-3500) (22.85,-15500) (22.95,500) (22.55,-23500) (22.65,14500) (22.75,-19500) (22.85,8500) (22.95,-11500) (22.65,-31500) (22.75,18500) (22.95,-27500) (22.55,-5500) (22.85,-3500) (22.95,6500) (22.75,-37500) (22.85,28500) (22.55,-35500) (22.65,-43500) (22.95,-39500) (22.85,-47500) (22.75,36000)
(23.05,6000) (23.15,-6000) (23.25,0) (23.35,-12000) (23.45,4000) (23.05,-20000) (23.15,18000) (23.25,-16000) (23.35,12000) (23.45,-8000) (23.15,-28000) (23.25,22000) (23.45,-24000) (23.05,-2000) (23.35,0) (23.45,10000) (23.25,-34000) (23.35,32000) (23.05,-32000) (23.15,-40000) (23.45,-36000) (23.35,-44000) (23.25,40000)
(23.55,9500) (23.65,-2500) (23.75,3500) (23.85,-8500) (23.95,7500) (23.55,-16500) (23.65,21500) (23.75,-12500) (23.85,15500) (23.95,-4500) (23.65,-24500) (23.75,25500) (23.95,-20500) (23.55,1500) (23.85,3500) (23.95,13500) (23.75,-30500) (23.85,35500) (23.55,-28500) (23.65,-36500) (23.95,-32500) (23.85,-40500) (23.75,42000)
(24.05,13000) (24.15,1000) (24.25,7000) (24.35,-5000) (24.45,11000) (24.05,-13000) (24.15,25000) (24.25,-9000) (24.35,19000) (24.45,-1000) (24.15,-21000) (24.25,29000) (24.45,-17000) (24.05,5000) (24.35,7000) (24.45,17000) (24.25,-27000) (24.35,39000) (24.05,-25000) (24.15,-33000) (24.45,-29000) (24.35,-37000) (24.25,45000)
(24.55,16500) (24.65,4500) (24.75,10500) (24.85,-1500) (24.95,14500) (24.55,-9500) (24.65,28500) (24.75,-5500) (24.85,22500) (24.95,2500) (24.65,-17500) (24.75,32500) (24.95,-13500) (24.55,8500) (24.85,10500) (24.95,20500) (24.75,-23500) (24.85,42500) (24.55,-21500) (24.65,-29500) (24.95,-25500) (24.85,-33500) (24.75,50000)
(25.05,20000) (25.15,8000) (25.25,14000) (25.35,2000) (25.45,18000) (25.05,-6000) (25.15,32000) (25.25,-2000) (25.35,26000) (25.45,6000) (25.15,-14000) (25.25,36000) (25.45,-10000) (25.05,12000) (25.35,14000) (25.45,24000) (25.25,-20000) (25.35,46000) (25.05,-18000) (25.15,-26000) (25.45,-22000) (25.35,-30000) (25.25,54000)
(25.55,23500) (25.65,11500) (25.75,17500) (25.85,5500) (25.95,21500) (25.55,-2500) (25.65,35500) (25.75,1500) (25.85,29500) (25.95,9500) (25.65,-10500) (25.75,39500) (25.95,-6500) (25.55,15500) (25.85,17500) (25.95,27500) (25.75,-16500) (25.85,49500) (25.55,-14500) (25.65,-22500) (25.95,-18500) (25.85,56000)
(26.05,27000) (26.15,15000) (26.25,21000) (26.35,9000) (26.45,25000) (26.05,1000) (26.15,39000) (26.25,5000) (26.35,33000) (26.45,13000) (26.15,-7000) (26.25,43000) (26.45,-3000) (26.05,19000) (26.35,21000) (26.45,31000) (26.25,-13000) (26.35,52000) (26.05,-11000) (26.15,58000) (26.45,47000)
(26.55,30500) (26.65,18500) (26.75,24500) (26.85,12500) (26.95,28500) (26.55,4500) (26.65,42500) (26.75,8500) (26.85,36500) (26.95,16500) (26.65,-3500) (26.75,46500) (26.95,500) (26.55,22500) (26.85,24500) (26.95,34500) (26.75,-9500) (26.85,54500) (26.55,60000)
(27.05,34000) (27.15,22000) (27.25,28000) (27.35,16000) (27.45,32000) (27.05,8000) (27.15,46000) (27.25,12000) (27.35,40000) (27.45,20000) (27.15,2000) (27.25,56000) (27.45,46000)
(27.55,38000) (27.65,26000) (27.75,32000) (27.85,44000) (27.95,36000) (27.55,16000) (27.65,52000) (27.85,24000) (27.75,66000)
(28.05,40000) (28.25,34000) (28.35,62000) (28.15,28000) (28.45,52000)
(28.65,44000) (28.85,60000) (28.95,50000)
(29.4,56000) (29.7,48000)
};
\addlegendentry{Observed}
% more observed values, dense core round the fit
\addplot[obsstyle, forget plot]
coordinates {
(3.52,86500) (3.62,69500) (3.72,97500) (3.82,58500) (3.92,91500) (3.57,63500) (3.67,104500) (3.77,74500) (3.87,51500) (3.97,82500)
(4.02,83000) (4.12,66000) (4.22,94000) (4.32,55000) (4.42,88000) (4.07,60000) (4.17,101000) (4.27,71000) (4.37,48000) (4.47,79000)
(4.52,79000) (4.62,62000) (4.72,90000) (4.82,51000) (4.92,84000) (4.57,56000) (4.67,97000) (4.77,67000) (4.87,44000) (4.97,75000)
(5.02,74500) (5.12,57500) (5.22,85500) (5.32,46500) (5.42,79500) (5.07,51500) (5.17,92500) (5.27,62500) (5.37,39500) (5.47,70500)
(5.52,70000) (5.62,53000) (5.72,81000) (5.82,42000) (5.92,75000) (5.57,47000) (5.67,88000) (5.77,58000) (5.87,35000) (5.97,66000)
(6.02,66000) (6.12,49000) (6.22,77000) (6.32,38000) (6.42,71000) (6.07,43000) (6.17,84000) (6.27,54000) (6.37,31000) (6.47,62000)
(6.52,62000) (6.62,45000) (6.72,73000) (6.82,34000) (6.92,67000) (6.57,39000) (6.67,80000) (6.77,50000) (6.87,27000) (6.97,58000)
(7.02,58000) (7.12,41000) (7.22,69000) (7.32,30000) (7.42,63000) (7.07,35000) (7.17,76000) (7.27,46000) (7.37,23000) (7.47,54000)
(7.52,54000) (7.62,37000) (7.72,65000) (7.82,26000) (7.92,59000) (7.57,31000) (7.67,72000) (7.77,42000) (7.87,19000) (7.97,50000)
(8.02,49500) (8.12,32500) (8.22,60500) (8.32,21500) (8.42,54500) (8.07,26500) (8.17,67500) (8.27,37500) (8.37,14500) (8.47,45500)
(8.52,45000) (8.62,28000) (8.72,56000) (8.82,17000) (8.92,50000) (8.57,22000) (8.67,63000) (8.77,33000) (8.87,10000) (8.97,41000)
(9.02,40500) (9.12,23500) (9.22,51500) (9.32,12500) (9.42,45500) (9.07,17500) (9.17,58500) (9.27,28500) (9.37,5500) (9.47,36500)
(9.52,35500) (9.62,18500) (9.72,46500) (9.82,7500) (9.92,40500) (9.57,12500) (9.67,53500) (9.77,23500) (9.87,500) (9.97,31500)
(10.02,30000) (10.12,13000) (10.22,41000) (10.32,2000) (10.42,35000) (10.07,7000) (10.17,48000) (10.27,18000) (10.37,-5000) (10.47,26000)
(10.52,24500) (10.62,7500) (10.72,35500) (10.82,-3500) (10.92,29500) (10.57,1500) (10.67,42500) (10.77,12500) (10.87,-10500) (10.97,20500)
(11.02,18500) (11.12,1500) (11.22,29500) (11.32,-9500) (11.42,23500) (11.07,-4500) (11.17,36500) (11.27,6500) (11.37,-16500) (11.47,14500)
(11.52,12000) (11.62,-5000) (11.72,23000) (11.82,-16000) (11.92,17000) (11.57,-11000) (11.67,30000) (11.77,0) (11.87,-23000) (11.97,8000)
(12.02,6500) (12.12,-10500) (12.22,17500) (12.32,-21500) (12.42,11500) (12.07,-16500) (12.17,24500) (12.27,-5500) (12.37,-28500) (12.47,2500)
(12.52,1500) (12.62,-15500) (12.72,12500) (12.82,-26500) (12.92,6500) (12.57,-21500) (12.67,19500) (12.77,-10500) (12.87,-33500) (12.97,-2500)
(13.02,-3500) (13.12,-20500) (13.22,7500) (13.32,-31500) (13.42,1500) (13.07,-26500) (13.17,14500) (13.27,-15500) (13.37,-38500) (13.47,-7500)
(13.52,-7000) (13.62,-24000) (13.72,4000) (13.82,-35000) (13.92,-2000) (13.57,-30000) (13.67,11000) (13.77,-19000) (13.87,-42000) (13.97,-11000)
(14.02,-10000) (14.12,-27000) (14.22,1000) (14.32,-38000) (14.42,-5000) (14.07,-33000) (14.17,8000) (14.27,-22000) (14.37,-45000) (14.47,-14000)
(14.52,-12500) (14.62,-29500) (14.72,-1500) (14.82,-40500) (14.92,-7500) (14.57,-35500) (14.67,5500) (14.77,-24500) (14.87,-47500) (14.97,-16500)
(15.02,-14500) (15.12,-31500) (15.22,-3500) (15.32,-42500) (15.42,-9500) (15.07,-37500) (15.17,3500) (15.27,-26500) (15.37,-49500) (15.47,-18500)
(15.52,-16500) (15.62,-33500) (15.72,-5500) (15.82,-44500) (15.92,-11500) (15.57,-39500) (15.67,1500) (15.77,-28500) (15.87,-51500) (15.97,-20500)
(16.02,-18500) (16.12,-35500) (16.22,-7500) (16.32,-46500) (16.42,-13500) (16.07,-41500) (16.17,-500) (16.27,-30500) (16.37,-53500) (16.47,-22500)
(16.52,-20000) (16.62,-37000) (16.72,-9000) (16.82,-48000) (16.92,-15000) (16.57,-43000) (16.67,-2000) (16.77,-32000) (16.87,-55000) (16.97,-24000)
(17.02,-21500) (17.12,-38500) (17.22,-10500) (17.32,-49500) (17.42,-16500) (17.07,-44500) (17.17,-3500) (17.27,-33500) (17.37,-56500) (17.47,-25500)
(17.52,-22500) (17.62,-39500) (17.72,-11500) (17.82,-50500) (17.92,-17500) (17.57,-45500) (17.67,-4500) (17.77,-34500) (17.87,-57500) (17.97,-26500)
(18.02,-22000) (18.12,-39000) (18.22,-11000) (18.32,-50000) (18.42,-17000) (18.07,-45000) (18.17,-4000) (18.27,-34000) (18.37,-57000) (18.47,-26000)
(18.52,-20500) (18.62,-37500) (18.72,-9500) (18.82,-48500) (18.92,-15500) (18.57,-43500) (18.67,-2500) (18.77,-32500) (18.87,-55500) (18.97,-24500)
(19.02,-18500) (19.12,-35500) (19.22,-7500) (19.32,-46500) (19.42,-13500) (19.07,-41500) (19.17,-500) (19.27,-30500) (19.37,-53500) (19.47,-22500)
(19.52,-16500) (19.62,-33500) (19.72,-5500) (19.82,-44500) (19.92,-11500) (19.57,-39500) (19.67,1500) (19.77,-28500) (19.87,-51500) (19.97,-20500)
(20.02,-13500) (20.12,-30500) (20.22,-2500) (20.32,-41500) (20.42,-8500) (20.07,-36500) (20.17,4500) (20.27,-25500) (20.37,-48500) (20.47,-17500)
(20.52,-10500) (20.62,-27500) (20.72,500) (20.82,-38500) (20.92,-5500) (20.57,-33500) (20.67,7500) (20.77,-22500) (20.87,-45500) (20.97,-14500)
(21.02,-7500) (21.12,-24500) (21.22,3500) (21.32,-35500) (21.42,-2500) (21.07,-30500) (21.17,10500) (21.27,-19500) (21.37,-42500) (21.47,-11500)
(21.52,-4500) (21.62,-21500) (21.72,6500) (21.82,-32500) (21.92,500) (21.57,-27500) (21.67,13500) (21.77,-16500) (21.87,-39500) (21.97,-8500)
(22.02,-2000) (22.12,-19000) (22.22,9000) (22.32,-30000) (22.42,3000) (22.07,-25000) (22.17,16000) (22.27,-14000) (22.37,-37000) (22.47,-6000)
(22.52,500) (22.62,-16500) (22.72,11500) (22.82,-27500) (22.92,5500) (22.57,-22500) (22.67,18500) (22.77,-11500) (22.87,-34500) (22.97,-3500)
(23.02,3500) (23.12,-13500) (23.22,14500) (23.32,-24500) (23.42,8500) (23.07,-19500) (23.17,21500) (23.27,-8500) (23.37,-31500) (23.47,-500)
(23.52,6500) (23.62,-10500) (23.72,17500) (23.82,-21500) (23.92,11500) (23.57,-16500) (23.67,24500) (23.77,-5500) (23.87,-28500) (23.97,2500)
(24.02,10000) (24.12,-7000) (24.22,21000) (24.32,-18000) (24.42,15000) (24.07,-13000) (24.17,28000) (24.27,-2000) (24.37,-25000) (24.47,6000)
(24.52,13500) (24.62,-3500) (24.72,24500) (24.82,-14500) (24.92,18500) (24.57,-9500) (24.67,31500) (24.77,1500) (24.87,-21500) (24.97,9500)
(25.02,17000) (25.12,0) (25.22,28000) (25.32,-11000) (25.42,22000) (25.07,-6000) (25.17,35000) (25.27,5000) (25.37,-18000) (25.47,13000)
(25.52,20500) (25.62,3500) (25.72,31500) (25.82,-7500) (25.92,25500) (25.57,-2500) (25.67,38500) (25.77,8500) (25.87,-14500) (25.97,16500)
(26.02,24000) (26.12,7000) (26.22,35000) (26.32,-4000) (26.42,29000) (26.07,1000) (26.17,42000) (26.27,12000) (26.37,-11000) (26.47,20000)
(26.52,27500) (26.62,10500) (26.72,38500) (26.82,-500) (26.92,32500) (26.57,4500) (26.67,45500) (26.77,15500) (26.87,-7500) (26.97,23500)
(27.02,31000) (27.12,14000) (27.22,42000) (27.32,3000) (27.42,36000) (27.07,8000) (27.17,49000) (27.27,19000) (27.37,-4000) (27.47,27000)
};
% fitted values
\addplot[fitred, line width=9bp, line join=round, smooth, on layer=axis foreground,
    legend image code/.code={\path[draw=none, fill=none] (0,0) -- (0.62cm,0);
        \draw[fitred, line width=0.6bp] plot[mark=triangle, mark size=2.2bp] coordinates {(0.18cm,0cm)};}]
coordinates {
(2.7,87000) (3.5,81500) (4.5,75000) (5.3,68000) (6.5,58000) (7.9,46000)
(9,36000) (10.1,25000) (11,14500) (11.7,6000) (12.5,-3000) (13.3,-10000)
(14.1,-15500) (14.9,-19500) (15.7,-22800) (16.5,-25800) (17.3,-28300)
(18.1,-28800) (19,-26300) (20,-21500) (21,-15500) (22,-10300) (22.6,-7300)
(23.5,-1500) (24.5,4800) (25.3,10500) (26.5,19000) (27.9,29000) (28.7,35000)
(29.5,41500) (30,45000)
};
\addlegendentry{Fitted}
\end{axis}
\pgfresetboundingbox
\useasboundingbox (0,0) rectangle (464bp,450bp);
\end{tikzpicture}
\end{document}
